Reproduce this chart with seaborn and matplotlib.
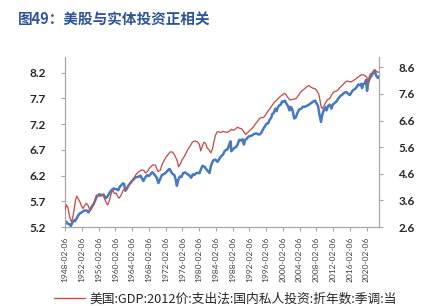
import matplotlib
matplotlib.use("Agg")
import matplotlib.pyplot as plt
import seaborn as sns
import pandas as pd
from matplotlib.lines import Line2D

# ---------------- data ----------------
inv_t = [1948.10, 1948.4, 1948.8, 1949.2, 1949.6, 1949.9, 1950.3, 1950.6, 1950.9, 1951.3,
         1951.7, 1952.1, 1952.4, 1952.8, 1953.2, 1953.6, 1954.0, 1954.4, 1954.8, 1955.2,
         1955.6, 1956.0, 1956.6, 1957.2, 1957.6, 1958.0, 1958.3, 1958.7, 1959.1, 1959.5,
         1959.9, 1960.3, 1960.7, 1961.0, 1961.5, 1962.0, 1962.6, 1963.1, 1963.6, 1964.1,
         1964.6, 1965.2, 1965.8, 1966.4, 1966.9, 1967.3, 1967.8, 1968.3, 1968.7, 1969.1,
         1969.7, 1970.0, 1970.3, 1970.8, 1971.3, 1971.8, 1972.3, 1972.8, 1973.2, 1973.7,
         1974.1, 1974.5, 1974.9, 1975.2, 1975.6, 1976.0, 1976.5, 1977.0, 1977.5, 1978.0,
         1978.5, 1978.9, 1979.4, 1979.8, 1980.2, 1980.5, 1980.9, 1981.3, 1981.7, 1982.0,
         1982.5, 1982.9, 1983.3, 1983.7, 1984.0, 1984.4, 1984.8, 1985.3, 1985.8, 1986.3,
         1986.8, 1987.3, 1987.8, 1988.3, 1988.8, 1989.3, 1989.8, 1990.3, 1990.8, 1991.2,
         1991.6, 1992.0, 1992.5, 1993.0, 1993.5, 1994.0, 1994.5, 1995.0, 1995.5, 1996.0,
         1996.5, 1997.0, 1997.5, 1998.0, 1998.5, 1999.0, 1999.5, 2000.0, 2000.5, 2000.9,
         2001.3, 2001.8, 2002.3, 2002.8, 2003.3, 2003.8, 2004.3, 2004.8, 2005.3, 2005.8,
         2006.3, 2006.8, 2007.3, 2007.8, 2008.2, 2008.6, 2008.9, 2009.2, 2009.5, 2009.9,
         2010.3, 2010.8, 2011.3, 2011.8, 2012.3, 2012.8, 2013.3, 2013.8, 2014.3, 2014.8,
         2015.3, 2015.8, 2016.3, 2016.8, 2017.3, 2017.8, 2018.3, 2018.8, 2019.3, 2019.8,
         2020.2, 2020.4, 2020.7, 2021.0, 2021.4, 2021.8, 2022.1, 2022.5, 2023.0]
inv_v = [5.53, 5.63, 5.58, 5.40, 5.30, 5.36, 5.55, 5.72, 5.80, 5.74,
         5.68, 5.60, 5.56, 5.62, 5.66, 5.62, 5.53, 5.55, 5.62, 5.70,
         5.82, 5.81, 5.80, 5.82, 5.74, 5.66, 5.63, 5.72, 5.84, 5.92,
         5.85, 5.86, 5.79, 5.76, 5.82, 5.92, 5.94, 5.98, 6.05, 6.10,
         6.16, 6.24, 6.28, 6.31, 6.30, 6.25, 6.28, 6.35, 6.38, 6.41,
         6.40, 6.33, 6.28, 6.30, 6.42, 6.50, 6.57, 6.62, 6.66, 6.66,
         6.62, 6.56, 6.48, 6.37, 6.42, 6.50, 6.56, 6.64, 6.72, 6.78,
         6.85, 6.87, 6.87, 6.85, 6.80, 6.68, 6.78, 6.85, 6.82, 6.74,
         6.70, 6.64, 6.72, 6.88, 6.98, 7.05, 7.05, 7.04, 7.06, 7.05,
         7.04, 7.06, 7.10, 7.08, 7.11, 7.14, 7.12, 7.11, 7.05, 7.00,
         7.03, 7.06, 7.10, 7.14, 7.20, 7.25, 7.31, 7.33, 7.33, 7.38,
         7.45, 7.50, 7.56, 7.62, 7.66, 7.70, 7.74, 7.77, 7.80, 7.77,
         7.72, 7.67, 7.68, 7.69, 7.70, 7.76, 7.82, 7.86, 7.89, 7.93,
         7.95, 7.92, 7.90, 7.89, 7.85, 7.80, 7.70, 7.55, 7.50, 7.55,
         7.62, 7.68, 7.70, 7.78, 7.83, 7.84, 7.87, 7.92, 7.96, 8.00,
         8.04, 8.03, 8.02, 8.04, 8.07, 8.10, 8.13, 8.16, 8.16, 8.14,
         8.10, 7.98, 8.12, 8.18, 8.19, 8.25, 8.26, 8.22, 8.21]

spx_t = [1948.10, 1948.4, 1948.8, 1949.2, 1949.5, 1949.9, 1950.3, 1950.5, 1950.9, 1951.3,
         1951.7, 1952.0, 1952.5, 1952.9, 1953.3, 1953.7, 1954.0, 1954.4, 1954.9, 1955.3,
         1955.7, 1956.0, 1956.3, 1956.8, 1957.3, 1957.8, 1958.1, 1958.5, 1958.9, 1959.3,
         1959.7, 1960.1, 1960.5, 1960.8, 1961.2, 1961.6, 1961.9, 1962.2, 1962.5, 1962.8,
         1963.2, 1963.6, 1964.0, 1964.5, 1965.0, 1965.4, 1965.8, 1966.1, 1966.5, 1966.8,
         1967.2, 1967.7, 1968.2, 1968.6, 1968.9, 1969.3, 1969.7, 1970.0, 1970.4, 1970.8,
         1971.2, 1971.6, 1972.0, 1972.5, 1972.9, 1973.1, 1973.5, 1973.9, 1974.2, 1974.5,
         1974.8, 1975.1, 1975.5, 1975.9, 1976.3, 1976.8, 1977.2, 1977.7, 1978.2, 1978.6,
         1978.9, 1979.4, 1979.8, 1980.2, 1980.5, 1980.9, 1981.3, 1981.7, 1982.1, 1982.6,
         1982.9, 1983.3, 1983.6, 1984.0, 1984.5, 1984.9, 1985.3, 1985.8, 1986.2, 1986.6,
         1986.9, 1987.3, 1987.6, 1987.8, 1988.1, 1988.5, 1988.9, 1989.3, 1989.7, 1990.1,
         1990.5, 1990.8, 1991.1, 1991.5, 1991.9, 1992.4, 1992.8, 1993.3, 1993.8, 1994.2,
         1994.6, 1995.0, 1995.4, 1995.8, 1996.2, 1996.6, 1996.9, 1997.3, 1997.6, 1997.9,
         1998.3, 1998.6, 1998.9, 1999.3, 1999.6, 1999.9, 2000.2, 2000.6, 2000.9, 2001.3,
         2001.7, 2001.9, 2002.3, 2002.6, 2002.8, 2003.2, 2003.6, 2004.0, 2004.5, 2004.9,
         2005.4, 2005.8, 2006.3, 2006.8, 2007.2, 2007.5, 2007.8, 2008.2, 2008.5, 2008.8,
         2009.2, 2009.5, 2009.9, 2010.3, 2010.5, 2010.9, 2011.3, 2011.7, 2012.0, 2012.4,
         2012.9, 2013.3, 2013.8, 2014.3, 2014.8, 2015.3, 2015.7, 2016.1, 2016.5, 2016.9,
         2017.3, 2017.8, 2018.1, 2018.5, 2018.8, 2019.0, 2019.3, 2019.7, 2019.95, 2020.2,
         2020.5, 2020.9, 2021.3, 2021.7, 2022.0, 2022.4, 2022.8, 2023.0]
spx_v = [2.70, 2.80, 2.72, 2.70, 2.64, 2.78, 2.85, 2.82, 2.93, 3.05,
         3.12, 3.14, 3.20, 3.22, 3.22, 3.15, 3.22, 3.35, 3.45, 3.60,
         3.75, 3.78, 3.83, 3.80, 3.82, 3.68, 3.72, 3.82, 3.93, 4.00,
         4.05, 4.02, 4.02, 3.98, 4.12, 4.18, 4.24, 4.22, 3.96, 4.02,
         4.15, 4.23, 4.31, 4.40, 4.47, 4.48, 4.50, 4.53, 4.42, 4.33,
         4.45, 4.55, 4.52, 4.60, 4.66, 4.60, 4.52, 4.45, 4.25, 4.40,
         4.55, 4.58, 4.62, 4.70, 4.77, 4.78, 4.65, 4.58, 4.55, 4.40,
         4.15, 4.35, 4.50, 4.48, 4.63, 4.65, 4.60, 4.55, 4.45, 4.58,
         4.55, 4.62, 4.64, 4.62, 4.75, 4.90, 4.88, 4.80, 4.72, 4.63,
         4.88, 5.05, 5.12, 5.13, 5.05, 5.15, 5.25, 5.32, 5.45, 5.50,
         5.52, 5.70, 5.82, 5.45, 5.50, 5.57, 5.60, 5.70, 5.88, 5.85,
         5.90, 5.70, 5.87, 5.92, 6.00, 6.02, 6.05, 6.10, 6.12, 6.08,
         6.08, 6.15, 6.28, 6.38, 6.48, 6.50, 6.62, 6.70, 6.85, 6.88,
         7.05, 6.95, 7.10, 7.18, 7.20, 7.32, 7.30, 7.35, 7.25, 7.15,
         6.98, 7.12, 7.05, 6.85, 6.68, 6.72, 6.90, 7.02, 7.05, 7.12,
         7.12, 7.15, 7.20, 7.25, 7.30, 7.33, 7.35, 7.23, 7.15, 6.85,
         6.55, 6.82, 7.00, 7.10, 6.98, 7.15, 7.20, 7.05, 7.20, 7.25,
         7.32, 7.42, 7.52, 7.58, 7.65, 7.67, 7.60, 7.56, 7.67, 7.75,
         7.78, 7.88, 7.96, 7.93, 7.98, 7.82, 7.98, 8.00, 8.13, 7.72,
         8.05, 8.20, 8.30, 8.40, 8.47, 8.28, 8.20, 8.26]

tick_years = list(range(1948, 2021, 4))
tick_labels = [f"{y}-02-06" for y in tick_years]
left_ticks = [5.2, 5.7, 6.2, 6.7, 7.2, 7.7, 8.2]
right_ticks = [2.6, 3.6, 4.6, 5.6, 6.6, 7.6, 8.6]

title = "图49：美股与实体投资正相关"
legend_label = "美国:GDP:2012价:支出法:国内私人投资:折年数:季调:当"

# ---------------- style ----------------
sns.set_style("white")
plt.rcParams["font.family"] = ["Lato", "Noto Sans CJK SC", "DejaVu Sans"]

RED = "#C4504D"
BLUE = "#4679C0"
SPINE = "#A6A6A6"

fig = plt.figure(figsize=(4.21, 3.06), dpi=100)
ax = fig.add_axes([65 / 421, 1 - 227 / 306, (379 - 65) / 421, (227 - 57) / 306])
ax2 = ax.twinx()

inv_df = pd.DataFrame({"t": inv_t, "v": inv_v})
spx_df = pd.DataFrame({"t": spx_t, "v": spx_v})

sns.lineplot(data=spx_df, x="t", y="v", ax=ax2, color=BLUE, linewidth=1.8, zorder=2)
sns.lineplot(data=inv_df, x="t", y="v", ax=ax, color=RED, linewidth=0.95, zorder=3)

ax.set_zorder(ax2.get_zorder() + 1)
ax.patch.set_visible(False)

ax.set_xlim(1948.10, 2023.05)
ax.set_ylim(5.2, 8.507)
ax2.set_ylim(2.6, 8.99)

ax.set_xticks([y + 36 / 365 for y in tick_years])
ax.set_xticklabels(tick_labels, rotation=90, fontsize=6, color="#404040")
ax.set_yticks(left_ticks)
ax.set_yticklabels([f"{v:.1f}" for v in left_ticks], fontsize=8.5, fontweight="bold")
ax2.set_yticks(right_ticks)
ax2.set_yticklabels([f"{v:.1f}" for v in right_ticks], fontsize=8.5, fontweight="bold")

for a in (ax, ax2):
    a.set_xlabel("")
    a.set_ylabel("")
    a.spines["top"].set_visible(False)
    for s in ("left", "right", "bottom"):
        a.spines[s].set_color(SPINE)
        a.spines[s].set_linewidth(0.8)
    a.grid(False)

ax.tick_params(axis="y", which="both", left=True, length=3, width=0.8, color=SPINE, pad=11)
ax.tick_params(axis="x", which="both", bottom=True, length=3, width=0.8, color=SPINE, pad=4)
ax2.tick_params(axis="y", which="both", right=True, length=3, width=0.8, color=SPINE, pad=11)

fig.text(18 / 421, 1 - 20 / 306, title, fontsize=10.5, fontweight="bold", color="#2F5597",
         family=["Noto Sans CJK SC", "DejaVu Sans"], va="center", ha="left")

handle = Line2D([], [], color=RED, linewidth=1.0)
fig.legend([handle], [legend_label], loc="center left",
           bbox_to_anchor=(54 / 421, 1 - 299 / 306), frameon=False,
           handlelength=2.4, handletextpad=0.4, borderaxespad=0, borderpad=0,
           prop={"family": ["Noto Sans CJK SC", "DejaVu Sans"], "size": 9.2})

fig.savefig("out.png", dpi=100)
